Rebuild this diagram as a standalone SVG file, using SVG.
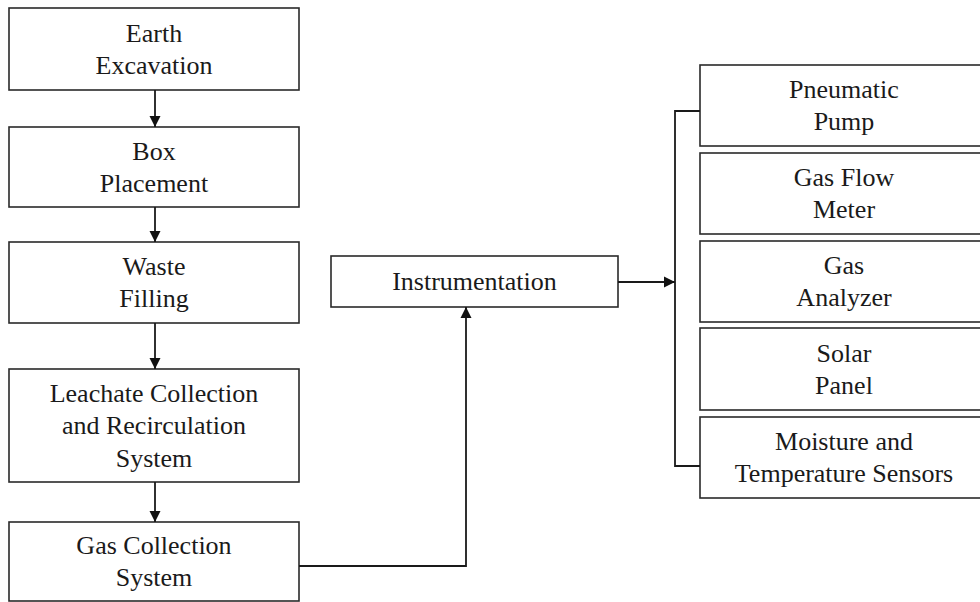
<svg xmlns="http://www.w3.org/2000/svg" width="980" height="602" viewBox="0 0 980 602">
  <style>
    .box { fill: #ffffff; stroke: #2a2a2a; stroke-width: 1.6; }
    .lbl { font-family: "Liberation Serif", "Times New Roman", serif; font-size: 26px; fill: #1a1a1a; text-anchor: middle; }
    .wire { fill: none; stroke: #1a1a1a; stroke-width: 1.8; }
  </style>
  <defs>
    <marker id="arrow" markerUnits="userSpaceOnUse" markerWidth="12" markerHeight="12" refX="11" refY="6" orient="auto">
      <path d="M0,0.5 L11,6 L0,11.5 Z" fill="#111111"/>
    </marker>
  </defs>
  <rect width="980" height="602" fill="#ffffff"/>

  <!-- process chain, left column -->
  <g id="earth-excavation">
    <rect class="box" x="9" y="8" width="290" height="82"/>
    <text class="lbl" x="154" y="41.5">Earth</text>
    <text class="lbl" x="154" y="73.5">Excavation</text>
  </g>
  <g id="box-placement">
    <rect class="box" x="9" y="127" width="290" height="80"/>
    <text class="lbl" x="154" y="159.5">Box</text>
    <text class="lbl" x="154" y="191.5">Placement</text>
  </g>
  <g id="waste-filling">
    <rect class="box" x="9" y="242" width="290" height="81"/>
    <text class="lbl" x="154" y="275">Waste</text>
    <text class="lbl" x="154" y="307">Filling</text>
  </g>
  <g id="leachate-system">
    <rect class="box" x="9" y="369" width="290" height="113"/>
    <text class="lbl" x="154" y="401.5">Leachate Collection</text>
    <text class="lbl" x="154" y="434">and Recirculation</text>
    <text class="lbl" x="154" y="466.5">System</text>
  </g>
  <g id="gas-collection">
    <rect class="box" x="9" y="522" width="290" height="79"/>
    <text class="lbl" x="154" y="553.5">Gas Collection</text>
    <text class="lbl" x="154" y="585.5">System</text>
  </g>

  <!-- instrumentation hub -->
  <g id="instrumentation">
    <rect class="box" x="331" y="256" width="287" height="51"/>
    <text class="lbl" x="474.5" y="290">Instrumentation</text>
  </g>

  <!-- instrument components, right column -->
  <g id="pneumatic-pump">
    <rect class="box" x="700" y="65" width="288" height="81"/>
    <text class="lbl" x="844" y="98">Pneumatic</text>
    <text class="lbl" x="844" y="130">Pump</text>
  </g>
  <g id="gas-flow-meter">
    <rect class="box" x="700" y="153" width="288" height="81"/>
    <text class="lbl" x="844" y="186">Gas Flow</text>
    <text class="lbl" x="844" y="218">Meter</text>
  </g>
  <g id="gas-analyzer">
    <rect class="box" x="700" y="241" width="288" height="81"/>
    <text class="lbl" x="844" y="274">Gas</text>
    <text class="lbl" x="844" y="306">Analyzer</text>
  </g>
  <g id="solar-panel">
    <rect class="box" x="700" y="328" width="288" height="82"/>
    <text class="lbl" x="844" y="361.5">Solar</text>
    <text class="lbl" x="844" y="393.5">Panel</text>
  </g>
  <g id="sensors">
    <rect class="box" x="700" y="417" width="288" height="81"/>
    <text class="lbl" x="844" y="450">Moisture and</text>
    <text class="lbl" x="844" y="482">Temperature Sensors</text>
  </g>

  <!-- connectors -->
  <g id="connectors">
    <line class="wire" x1="155" y1="90" x2="155" y2="127" marker-end="url(#arrow)"/>
    <line class="wire" x1="155" y1="207" x2="155" y2="242" marker-end="url(#arrow)"/>
    <line class="wire" x1="155" y1="323" x2="155" y2="369" marker-end="url(#arrow)"/>
    <line class="wire" x1="155" y1="482" x2="155" y2="522" marker-end="url(#arrow)"/>
    <polyline class="wire" points="299,566 466,566 466,307" marker-end="url(#arrow)"/>
    <line class="wire" x1="618" y1="282" x2="675" y2="282" marker-end="url(#arrow)"/>
    <polyline class="wire" points="700,111 675,111 675,466 700,466"/>
  </g>
</svg>
